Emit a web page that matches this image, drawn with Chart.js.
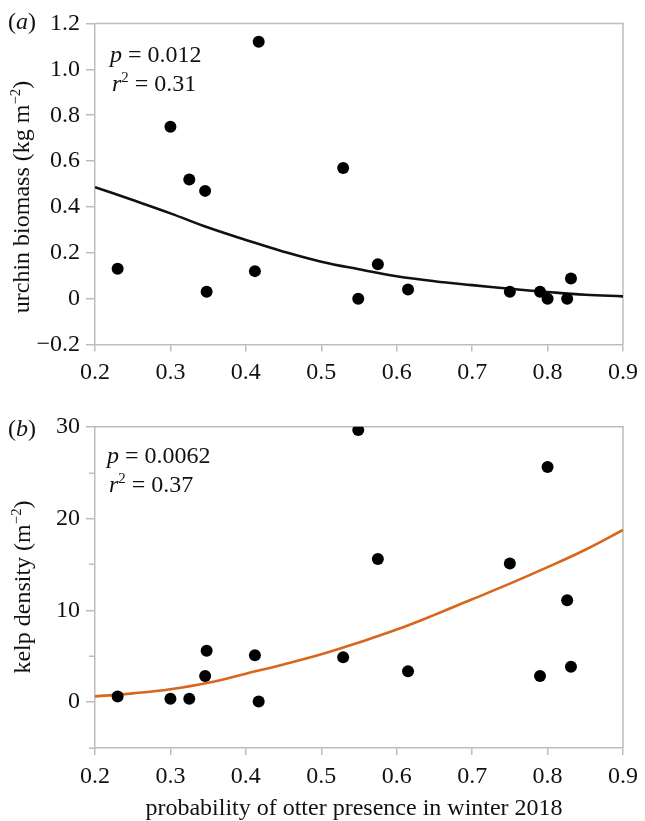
<!DOCTYPE html>
<html>
<head>
<meta charset="utf-8">
<script src="https://cdn.jsdelivr.net/npm/chart.js@4.4.1/dist/chart.umd.min.js"></script>
<style>
  html, body { margin: 0; padding: 0; background: #fff; }
  body { width: 645px; height: 821px; position: relative; overflow: hidden; }
  canvas { position: absolute; left: 0; }
  #c1 { top: 0; }
  #c2 { top: 395px; }
</style>
</head>
<body>
<canvas id="c1" width="645" height="395" style="width:645px;height:395px"></canvas>
<canvas id="c2" width="645" height="426" style="width:645px;height:426px"></canvas>
<script>
// ---- data ----
const otterProb = [0.23, 0.30, 0.325, 0.346, 0.348, 0.412, 0.417, 0.529, 0.549, 0.575, 0.615, 0.75, 0.79, 0.80, 0.826, 0.831];
const urchinBiomass = [0.13, 0.75, 0.52, 0.47, 0.03, 0.12, 1.12, 0.57, 0.0, 0.15, 0.04, 0.03, 0.03, 0.0, 0.0, 0.088];
const kelpDensity = [0.62, 0.36, 0.36, 2.84, 5.6, 5.1, 0.07, 4.88, 29.63, 15.6, 3.35, 15.1, 2.84, 25.6, 11.1, 3.86];

const fitX = [0.2, 0.25, 0.3, 0.35, 0.4, 0.45, 0.5, 0.55, 0.6, 0.65, 0.7, 0.75, 0.8, 0.85, 0.9];
const urchinFit = [0.486, 0.43, 0.372, 0.31, 0.256, 0.205, 0.161, 0.128, 0.098, 0.076, 0.059, 0.043, 0.029, 0.017, 0.010];
const kelpFit = [0.62, 0.95, 1.4, 2.1, 3.1, 4.1, 5.2, 6.5, 7.9, 9.5, 11.2, 12.9, 14.7, 16.6, 18.75];

const xTicks = [0.2, 0.3, 0.4, 0.5, 0.6, 0.7, 0.8, 0.9];
const urchinTicks = [-0.2, 0, 0.2, 0.4, 0.6, 0.8, 1.0, 1.2];
const kelpTicks = [-5, 0, 5, 10, 15, 20, 25, 30];
const kelpLabelled = [0, 10, 20, 30];

// ---- styling ----
const FONT = "'Liberation Serif', 'Times New Roman', serif";
const AXIS = '#bdbdbd';
const TXT = '#111111';

function pts(xs, ys) { return xs.map((x, i) => ({ x: x, y: ys[i] })); }

function drawRich(ctx, parts, x, y, size, align) {
  let w = 0;
  const fontFor = p => (p.it ? 'italic ' : '') + (p.sup ? size * 0.62 : size) + 'px ' + FONT;
  parts.forEach(p => { ctx.font = fontFor(p); w += ctx.measureText(p.t).width; });
  let cx = align === 'center' ? x - w / 2 : x;
  parts.forEach(p => {
    ctx.font = fontFor(p);
    ctx.fillText(p.t, cx, p.sup ? y - size * 0.38 : y);
    cx += ctx.measureText(p.t).width;
  });
}

function makePlugin(cfg) {
  return {
    id: 'deco' + cfg.id,
    beforeDatasetsDraw(chart) {
      const a = chart.chartArea, ctx = chart.ctx;
      ctx.save();
      ctx.strokeStyle = AXIS; ctx.lineWidth = 1.5;
      ctx.beginPath();
      ctx.moveTo(a.left, a.top); ctx.lineTo(a.right, a.top); ctx.lineTo(a.right, a.bottom);
      ctx.stroke();
      // short minor ticks on the y axis
      if (cfg.minor) {
        const ys = chart.scales.y;
        cfg.minor.forEach(v => {
          const py = Math.round(ys.getPixelForValue(v)) + 0.25;
          ctx.beginPath();
          ctx.moveTo(a.left - 6, py); ctx.lineTo(a.left, py);
          ctx.stroke();
        });
      }
      ctx.restore();
    },
    afterDraw(chart) {
      const ctx = chart.ctx;
      ctx.save();
      ctx.fillStyle = TXT;
      ctx.textBaseline = 'alphabetic';
      ctx.textAlign = 'left';
      drawRich(ctx, [{ t: '(' }, { t: cfg.letter, it: true }, { t: ')' }], 8, cfg.letterY, 24, 'left');
      drawRich(ctx, [{ t: 'p', it: true }, { t: ' = ' + cfg.p }], cfg.statX, cfg.statY1, 24, 'left');
      drawRich(ctx, [{ t: 'r', it: true }, { t: '2', sup: true }, { t: ' = ' + cfg.r2 }], cfg.statX + 2, cfg.statY2, 24, 'left');
      ctx.save();
      ctx.translate(cfg.yTitleX, cfg.yTitleY);
      ctx.rotate(-Math.PI / 2);
      drawRich(ctx, cfg.yTitle, 0, 24 * 0.24, 24, 'center');
      ctx.restore();
      if (cfg.xTitle) {
        drawRich(ctx, [{ t: cfg.xTitle }], cfg.xTitleX, cfg.xTitleY, 24, 'center');
      }
      ctx.restore();
    }
  };
}

function makeChart(el, o) {
  return new Chart(document.getElementById(el), {
    type: 'scatter',
    data: {
      datasets: [
        {
          data: pts(otterProb, o.values),
          backgroundColor: '#000', borderColor: '#000',
          pointRadius: 6, pointHoverRadius: 6, borderWidth: 0, order: 0
        },
        {
          data: pts(fitX, o.fit),
          showLine: true, borderColor: o.lineColor, borderWidth: 2.6,
          pointRadius: 0, pointHoverRadius: 0, tension: 0.4, fill: false, order: 1
        }
      ]
    },
    options: {
      responsive: false, animation: false,
      layout: { padding: { left: 0, right: 17, top: o.padTop, bottom: 0 } },
      plugins: { legend: { display: false }, tooltip: { enabled: false } },
      scales: {
        x: {
          type: 'linear', min: 0.2, max: 0.9,
          afterBuildTicks: s => { s.ticks = xTicks.map(v => ({ value: v })); },
          afterFit: s => { s.height = o.xAxisH; },
          ticks: {
            autoSkip: false, maxRotation: 0, padding: 7, color: TXT,
            font: { family: FONT, size: 24 },
            callback: v => (Math.round(v * 10) / 10).toFixed(1)
          },
          grid: { drawOnChartArea: false, drawTicks: true, tickLength: 7, color: AXIS, lineWidth: 1.5 },
          border: { display: true, color: AXIS, width: 1.5 }
        },
        y: {
          type: 'linear', min: o.yMin, max: o.yMax,
          afterBuildTicks: s => { s.ticks = o.yTicks.map(v => ({ value: v })); },
          afterFit: s => { s.width = 95; },
          ticks: {
            autoSkip: false, padding: 6, color: TXT,
            font: { family: FONT, size: 24 },
            callback: o.yLabel
          },
          grid: {
            drawOnChartArea: false, drawTicks: true, tickLength: 9, lineWidth: 1.5,
            color: c => (o.minor && c.tick && o.minor.indexOf(c.tick.value) >= 0) ? 'rgba(0,0,0,0)' : AXIS
          },
          border: { display: true, color: AXIS, width: 1.5 }
        }
      }
    },
    plugins: [makePlugin(Object.assign({ minor: o.minor }, o.deco))]
  });
}

makeChart('c1', {
  values: urchinBiomass, fit: urchinFit, lineColor: '#111111',
  padTop: 23.5, xAxisH: 395 - 344.5,
  yMin: -0.2, yMax: 1.2, yTicks: urchinTicks,
  yLabel: v => { const r = Math.round(v * 10) / 10; if (r === 0) return '0'; return (r < 0 ? '\u2212' : '') + Math.abs(r).toFixed(1); },
  deco: {
    id: 'a', letter: 'a', letterY: 29, p: '0.012', r2: '0.31', statX: 110, statY1: 62, statY2: 91,
    yTitleX: 23, yTitleY: 197,
    yTitle: [{ t: 'urchin biomass (kg m' }, { t: '\u22122', sup: true }, { t: ')' }]
  }
});

makeChart('c2', {
  values: kelpDensity, fit: kelpFit, lineColor: '#d9661c',
  padTop: 31.7, xAxisH: 426 - 353,
  yMin: -5, yMax: 30, yTicks: kelpTicks,
  minor: [-5, 5, 15, 25],
  yLabel: v => kelpLabelled.indexOf(v) >= 0 ? String(v) : '',
  deco: {
    id: 'b', letter: 'b', letterY: 41, p: '0.0062', r2: '0.37', statX: 107, statY1: 68, statY2: 97,
    yTitleX: 24, yTitleY: 192,
    yTitle: [{ t: 'kelp density (m' }, { t: '\u22122', sup: true }, { t: ')' }],
    xTitle: 'probability of otter presence in winter 2018', xTitleX: 354, xTitleY: 420
  }
});
</script>
</body>
</html>
